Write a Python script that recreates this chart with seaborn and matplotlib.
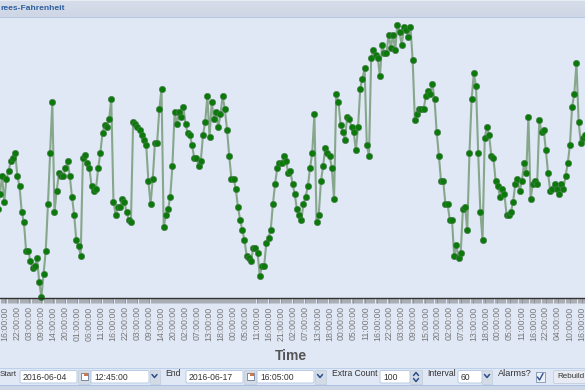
import numpy as np
import pandas as pd
import seaborn as sns
import matplotlib.pyplot as plt
from matplotlib.patches import Rectangle, FancyBboxPatch

# hourly readings (no y axis shown, so relative units)
temps_first = [88.5, 103.5, 121.5, 95.8, 118.8, 126.5, 136.8, 139.5, 144.5, 121.5, 111.2, 85.5, 75.2, 46.8, 46.8,
               36.5, 29.2, 31.5, 39.8, 15.8, 0.5, 23.5, 46.8, 93.2, 144.5, 195.8, 85.5, 106.2, 124.2, 121.5, 121.5,
               129.2, 136.8, 121.5, 100.8, 82.8, 57.2, 51.8, 41.8, 139.5, 142.2, 134.5, 129.2, 111.2, 106.2, 108.5,
               129.2, 144.5, 164.8, 172.5, 170.5, 178.2, 198.5, 95.8, 82.8, 90.5, 90.5, 98.5, 95.8, 85.5, 77.8, 75.2,
               175.5, 173.5, 170.5, 167.5, 162.5, 157.5, 152.2, 116.2, 93.2, 118.8, 154.8, 154.8, 188.2, 208.8, 70.2,
               82.8, 88.2, 100.8, 131.8, 185.8, 173.2, 185.8, 180.5, 190.8, 173.2, 164.8, 162.5, 152.2, 139.5, 139.5,
               131.8]
temps_middle = [136.8, 162.5, 175.5, 201.2, 160.2, 195.8, 178.2, 185.8, 170.5, 183.2, 201.2, 188.2, 167.8, 141.8,
                118.8, 118.8, 108.5, 90.5, 77.8, 67.5, 57.2, 41.8, 39.2, 36.5, 49.5, 49.5, 44.5, 21.2, 31.5, 31.5,
                54.5, 59.8, 67.5, 93.2, 113.8, 129.2, 134.2, 134.2, 141.8, 136.8, 124.2, 126.5, 113.8, 103.5, 88.2,
                82.8, 77.8, 93.2, 100.8, 111.2, 129.2, 144.5, 183.2, 75.2, 82.8, 116.2, 131.8, 149.5, 144.5, 141.8,
                129.2, 98.2, 203.5, 195.8, 172.8, 165.2, 157.5, 180.5, 178.2, 170.5, 165.2, 147.2, 170.5, 208.8,
                218.8, 229.2, 152.2, 141.8, 239.5, 247.2, 242.2, 239.5, 221.5, 252.5, 244.8, 244.8]
temps_last = [262.8, 249.8, 262.8, 247.2, 272.8, 265.2, 252.2, 270.5, 267.8, 260.2, 270.5, 237.2, 177.8, 183.2,
              188.2, 188.2, 188.2, 201.2, 206.2, 203.5, 213.8, 198.5, 165.2, 141.8, 116.2, 116.2, 93.2, 93.2, 77.8,
              77.8, 41.8, 52.2, 39.2, 44.5, 88.2, 90.5, 67.5, 144.5, 198.5, 224.2, 211.2, 144.5, 85.5, 57.2, 160.0,
              170.2, 162.5, 141.8, 139.2, 116.2, 111.2, 100.8, 108.5, 103.5, 82.8, 82.8, 85.5, 95.8, 113.8, 118.8,
              106.2, 116.2, 134.2, 124.2, 180.5, 98.2, 113.8, 116.2, 113.8, 177.8, 165.2, 167.5, 147.2, 124.2, 106.2,
              108.5, 113.8, 108.5, 103.5, 113.8, 108.5, 121.5, 134.2, 152.2, 190.8, 203.5, 234.5, 175.2, 154.8,
              159.8, 162.5]

tick_labels = ['16:00:00', '22:00:00', '03:00:00', '09:00:00', '14:00:00', '20:00:00', '01:00:00', '06:00:00',
               '11:00:00', '16:00:00', '22:00:00', '03:00:00', '09:00:00', '14:00:00', '20:00:00', '02:00:00',
               '07:00:00', '13:00:00', '18:00:00', '00:00:00', '05:00:00', '11:00:00', '16:00:00', '21:00:00',
               '02:00:00', '07:00:00', '13:00:00', '18:00:00', '00:00:00', '05:00:00', '11:00:00', '16:00:00',
               '22:00:00', '03:00:00', '09:00:00', '15:00:00', '20:00:00', '02:00:00', '07:00:00', '13:00:00',
               '18:00:00', '00:00:00', '05:00:00', '11:00:00', '16:00:00', '22:00:00', '04:00:00', '10:00:00',
               '16:00:00']

BG = '#e0e8f6'

sns.set_theme(style='white')
plt.rcParams['font.family'] = ['Liberation Sans', 'DejaVu Sans']

temps = temps_first + temps_middle + temps_last
df = pd.DataFrame({'hour': np.arange(len(temps)), 'temp': temps})

fig = plt.figure(figsize=(5.85, 3.9), dpi=100, facecolor=BG)
ax = fig.add_axes([0, 92.5 / 390, 1, 280.5 / 390], facecolor=BG)

sns.lineplot(data=df, x='hour', y='temp', ax=ax, color='#86a78c', linewidth=1.5, marker='o', markersize=4.6,
             markerfacecolor='#0b7a0b', markeredgecolor='#4c7a50', markeredgewidth=0.4, errorbar=None, clip_on=False)

ax.set_yticks([])
ax.set_xlabel('')
ax.set_ylabel('')
sns.despine(ax=ax, left=True)
ax.spines['bottom'].set_color('#333333')
ax.spines['bottom'].set_linewidth(1)

tick_pos = 3.34 + np.arange(len(tick_labels)) * 5.5
ax.set_xticks(tick_pos)
ax.set_xticklabels(tick_labels, rotation=90, fontsize=6.3, color='#777777')
ax.set_xticks(np.arange(0, 275, 0.5), minor=True)
ax.tick_params(axis='x', which='both', bottom=True, length=3.4, width=0.4, color='#808080', pad=3)

# set_xticks widens the view, so the limits have to come after it
px_per_hour = 2.184
ax.set_xlim(1.05, 1.05 + 585 / px_per_hour)
ax.set_ylim(0, 280.5)

# form chrome drawn in pixel coordinates on top of the chart
ui = fig.add_axes([0, 0, 1, 1], facecolor='none', zorder=5)
ui.set_xlim(0, 585)
ui.set_ylim(390, 0)
ui.axis('off')

# header band
grad = np.linspace(0, 1, 17)[:, None, None] * np.array([[[-0.03, -0.03, -0.02]]]) + np.array([[[0.84, 0.87, 0.92]]])
ui.imshow(grad, extent=(0, 585, 17, 0), aspect='auto', zorder=1)
ui.add_patch(Rectangle((0, 0), 585, 1.2, color='#e8edf4', lw=0, zorder=2))
ui.add_patch(Rectangle((0, 16.5), 585, 1.2, color='#b4c8e4', lw=0, zorder=2))
ui.set_xlim(0, 585)
ui.set_ylim(390, 0)
ui.text(0, 9, 'rees-Fahrenheit', fontsize=6.1, fontweight='bold', color='#2f5f9e', va='center', ha='left', zorder=3)

ui.text(291, 356, 'Time', fontsize=10, fontweight='bold', color='#555555', ha='center', va='center')

# bottom toolbar
ui.add_patch(Rectangle((0, 367.5), 585, 1.2, color='#bcd0ea', lw=0, zorder=1))
ui.add_patch(Rectangle((0, 385), 585, 1.2, color='#a9c2e4', lw=0, zorder=1))
ui.add_patch(Rectangle((0, 386.2), 585, 4, color='#ccd6e4', lw=0, zorder=1))


def text_box(x0, x1, label=None):
    ui.add_patch(FancyBboxPatch((x0, 370.5), x1 - x0, 12.5, boxstyle='round,pad=0,rounding_size=1.5',
                                fc='white', ec='#b9cbe4', lw=0.7, zorder=2))
    if label:
        ui.text(x0 + 3, 377, label, fontsize=6.2, color='#333333', va='center', zorder=3)


def button(x0, x1):
    ui.add_patch(Rectangle((x0, 370), x1 - x0, 14, fc='#d3dbe6', ec='#c2cedd', lw=0.5, zorder=2))


def chevron(xc, yc, up=False):
    d = -1.5 if up else 1.5
    ui.plot([xc - 2.5, xc, xc + 2.5], [yc - d, yc + d, yc - d], color='#2a4f8c', lw=1.1, zorder=3)


def calendar(x0):
    button(x0, x0 + 12)
    ui.add_patch(Rectangle((x0 + 3, 373), 6.5, 6.5, fc='white', ec='#667a99', lw=0.6, zorder=3))
    ui.add_patch(Rectangle((x0 + 6, 373), 3.5, 2.5, fc='#c9794a', lw=0, zorder=4))


def form_label(x, label, y=374.5, size=6.2):
    ui.text(x, y, label, fontsize=size, color='#333333', va='center', zorder=3)


form_label(0, 'Start', 374, 5.8)
text_box(20, 77, '2016-06-04')
calendar(78)
text_box(91, 149, '12:45:00')
button(150, 160)
chevron(154.5, 376)

form_label(165, 'End', 374)
text_box(186, 243, '2016-06-17')
calendar(244)
text_box(257, 314, '16:05:00')
button(315, 326)
chevron(320, 376)

form_label(331.5, 'Extra Count', 374)
text_box(380, 410, '100')
button(410, 422)
chevron(416, 374, up=True)
chevron(416, 380)

form_label(427, 'Interval', 374)
text_box(458, 482, '60')
button(482, 492)
chevron(487, 376)

form_label(498, 'Alarms?', 374, 6.6)
ui.add_patch(Rectangle((535.5, 372), 9.5, 9.5, fc='#eef2f8', ec='#7f93b2', lw=0.6, zorder=2))
ui.plot([537.5, 539.5, 543], [377, 380, 373.5], color='#2a4f8c', lw=1, zorder=3)

ui.add_patch(FancyBboxPatch((553.5, 370.5), 40, 13, boxstyle='round,pad=0,rounding_size=1.5',
                            fc='#e8ecf2', ec='#c2cedd', lw=0.6, zorder=2, clip_on=True))
form_label(557.5, 'Rebuild', 377, 5.8)

fig.savefig('out.png', dpi=100, facecolor=BG)
